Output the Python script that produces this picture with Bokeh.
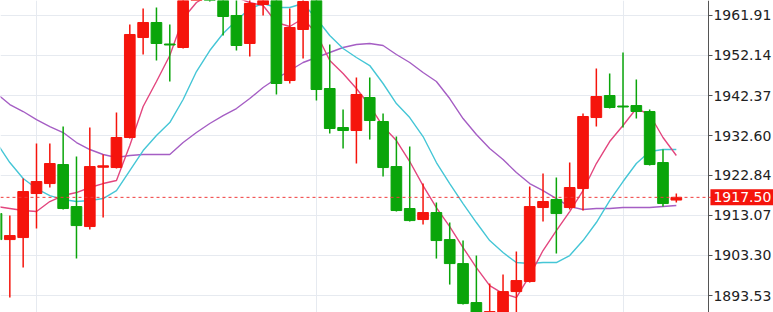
from bokeh.plotting import figure
from bokeh.models import (Range1d, FixedTicker, Span, Label, PrintfTickFormatter,
                          ColumnDataSource, BoxAnnotation)
from bokeh.embed import file_html
from bokeh.resources import INLINE

# ---- data ----
opens = [1913.54, 1907.19, 1907.68, 1918.43, 1920.87, 1925.51, 1915.25, 1910.37, 1924.85, 1924.78,
         1932.11, 1956.53, 1960.20, 1954.95, 1954.09, 1968.50, 1972.41, 1967.52, 1961.91, 1955.07,
         1964.59, 1968.01, 1946.03, 1958.49, 1965.81, 1944.08, 1934.55, 1933.82, 1941.88, 1936.02,
         1925.02, 1914.77, 1912.08, 1913.79, 1907.19, 1901.33, 1891.81, 1887.41, 1888.39, 1894.49,
         1896.94, 1915.01, 1916.96, 1915.01, 1919.65, 1936.99, 1942.37, 1939.80, 1939.92, 1938.46,
         1926.00, 1916.84]
highs = [1914.28, 1913.06, 1922.09, 1930.64, 1930.64, 1934.79, 1927.47, 1934.55, 1927.96, 1938.21,
         1959.71, 1963.62, 1963.86, 1959.71, 1970.46, 1975.34, 1974.12, 1969.23, 1966.79, 1966.30,
         1967.04, 1969.23, 1963.62, 1966.55, 1967.52, 1954.82, 1938.95, 1946.76, 1946.76, 1937.97,
         1932.35, 1929.91, 1920.87, 1916.23, 1911.35, 1906.95, 1903.29, 1896.45, 1898.65, 1904.26,
         1920.14, 1923.31, 1922.34, 1926.00, 1937.97, 1948.96, 1947.74, 1952.87, 1946.27, 1938.95,
         1929.18, 1918.43]
lows = [1906.46, 1893.03, 1900.35, 1909.88, 1919.90, 1914.52, 1902.55, 1909.64, 1912.57, 1924.54,
        1931.90, 1952.38, 1950.92, 1945.79, 1953.85, 1966.79, 1965.33, 1957.02, 1953.36, 1951.89,
        1961.91, 1942.61, 1945.30, 1951.40, 1941.15, 1933.08, 1929.42, 1925.76, 1931.62, 1922.58,
        1914.03, 1911.59, 1910.86, 1902.55, 1896.20, 1891.32, 1886.92, 1886.19, 1887.65, 1888.63,
        1896.70, 1911.59, 1903.77, 1914.52, 1914.28, 1934.79, 1939.19, 1934.55, 1936.75, 1925.27,
        1915.25, 1916.23]
closes = [1907.19, 1908.17, 1918.92, 1921.36, 1925.76, 1914.77, 1910.61, 1925.02, 1925.20, 1932.11,
          1957.27, 1960.20, 1955.07, 1954.70, 1968.50, 1972.90, 1967.04, 1961.66, 1954.58, 1964.84,
          1966.06, 1945.30, 1958.98, 1965.33, 1943.83, 1934.31, 1933.82, 1942.61, 1936.26, 1924.78,
          1914.28, 1911.83, 1913.79, 1906.95, 1901.33, 1891.56, 1887.90, 1889.61, 1894.49, 1897.18,
          1915.25, 1916.48, 1913.54, 1919.90, 1937.24, 1942.12, 1939.44, 1939.56, 1938.46, 1925.51,
          1915.99, 1917.50]
ma_short = [1915.25, 1914.77, 1914.28, 1914.03, 1916.48, 1917.94, 1918.67, 1919.90, 1920.87, 1921.61,
            1930.15, 1939.68, 1945.79, 1952.14, 1961.17, 1965.08, 1967.04, 1968.01, 1966.30, 1965.08,
            1964.35, 1960.20, 1959.22, 1961.17, 1957.51, 1950.92, 1947.74, 1944.08, 1939.92, 1934.79,
            1931.38, 1926.25, 1920.38, 1915.01, 1910.37, 1905.24, 1900.35, 1895.96, 1894.00, 1893.03,
            1898.40, 1904.51, 1909.39, 1914.03, 1919.16, 1925.76, 1931.13, 1935.04, 1939.19, 1937.73,
            1932.11, 1927.71]
ma_mid = [1930.89, 1926.00, 1922.09, 1919.65, 1917.94, 1916.96, 1916.48, 1916.72, 1917.21, 1919.16,
          1924.05, 1928.93, 1932.60, 1935.77, 1941.39, 1948.23, 1953.36, 1957.51, 1960.69, 1963.62,
          1964.84, 1963.86, 1963.86, 1964.84, 1961.17, 1957.02, 1953.85, 1951.65, 1949.69, 1945.30,
          1940.41, 1936.99, 1932.35, 1926.00, 1920.87, 1915.99, 1911.35, 1906.95, 1904.02, 1901.58,
          1901.33, 1901.58, 1901.58, 1903.29, 1906.95, 1911.35, 1916.72, 1921.36, 1925.76, 1928.69,
          1929.18, 1929.18]
ma_long = [1942.86, 1940.17, 1938.46, 1936.50, 1934.79, 1933.33, 1930.89, 1929.18, 1927.96, 1927.22,
           1927.71, 1927.96, 1927.96, 1927.96, 1930.89, 1933.33, 1935.53, 1937.48, 1939.19, 1941.63,
           1944.32, 1946.52, 1948.47, 1950.43, 1951.65, 1952.87, 1954.09, 1954.82, 1955.07, 1954.58,
           1952.38, 1950.43, 1947.98, 1945.79, 1941.63, 1936.75, 1932.84, 1929.42, 1926.73, 1923.56,
           1920.87, 1919.16, 1917.21, 1915.25, 1914.52, 1914.77, 1914.77, 1915.01, 1915.01, 1915.01,
           1915.25, 1915.50]
price_ticks = [1893.53, 1903.30, 1913.07, 1922.84, 1932.60, 1942.37, 1952.14, 1961.91]
vgrid_bars = [3, 24, 47]
last_price = 1917.50

UP = "#f5140c"
DOWN = "#0aa50a"

# chart area spans bars 0.3 .. 53.41, the price scale sits beyond that
X_START, X_AXIS, X_END = 0.3, 53.41, 58.29

idx = list(range(len(opens)))
colors = [UP if c >= o else DOWN for o, c in zip(opens, closes)]
src = ColumnDataSource(dict(
    x=idx, o=opens, h=highs, l=lows, c=closes,
    top=[max(o, c) for o, c in zip(opens, closes)],
    bottom=[min(o, c) for o, c in zip(opens, closes)],
    color=colors,
))

p = figure(width=773, height=312, x_range=Range1d(X_START, X_END),
           y_range=Range1d(1889.38, 1965.57),
           output_backend="svg", toolbar_location=None, min_border=0,
           x_axis_location=None, y_axis_location="right")
p.outline_line_color = None
p.background_fill_color = "white"

ax = p.yaxis[0]
ax.fixed_location = X_AXIS
ax.ticker = FixedTicker(ticks=price_ticks)
ax.formatter = PrintfTickFormatter(format="%.2f")
ax.major_tick_out = 4
ax.major_tick_in = 0
ax.minor_tick_line_color = None
ax.axis_line_color = "#555555"
ax.major_tick_line_color = "#555555"
ax.major_label_text_font = "DejaVu Sans"
ax.major_label_text_font_size = "14px"
ax.major_label_text_color = "#222222"
ax.major_label_standoff = 1

p.ygrid.grid_line_color = "#e6eaf0"
p.xgrid.ticker = FixedTicker(ticks=vgrid_bars)
p.xgrid.grid_line_color = "#e6eaf0"

# blank the price-scale strip behind the labels
p.add_layout(BoxAnnotation(left=X_AXIS, fill_color="white", fill_alpha=1.0,
                           line_color=None, level="underlay"))

p.line(idx, ma_long, line_color="#a55ec4", line_width=1.4)
p.line(idx, ma_mid, line_color="#45c6d6", line_width=1.4)
p.line(idx, ma_short, line_color="#e3467e", line_width=1.4)

p.segment(x0="x", y0="l", x1="x", y1="h", line_color="color", line_width=1.5, source=src)
p.vbar(x="x", width=0.8, top="top", bottom="bottom", fill_color="color", line_color="color",
       line_width=1, source=src)

p.add_layout(Span(location=last_price, dimension="width", line_color="#f03c3c",
                  line_dash="3 3", line_width=1))
p.add_layout(Label(x=53.56, y=last_price, text="%.2f" % last_price, text_color="white",
                   text_font="DejaVu Sans", text_font_size="14px", text_baseline="middle",
                   background_fill_color="#f5140c", padding=3))

open("out.html", "w").write(file_html(p, INLINE))
